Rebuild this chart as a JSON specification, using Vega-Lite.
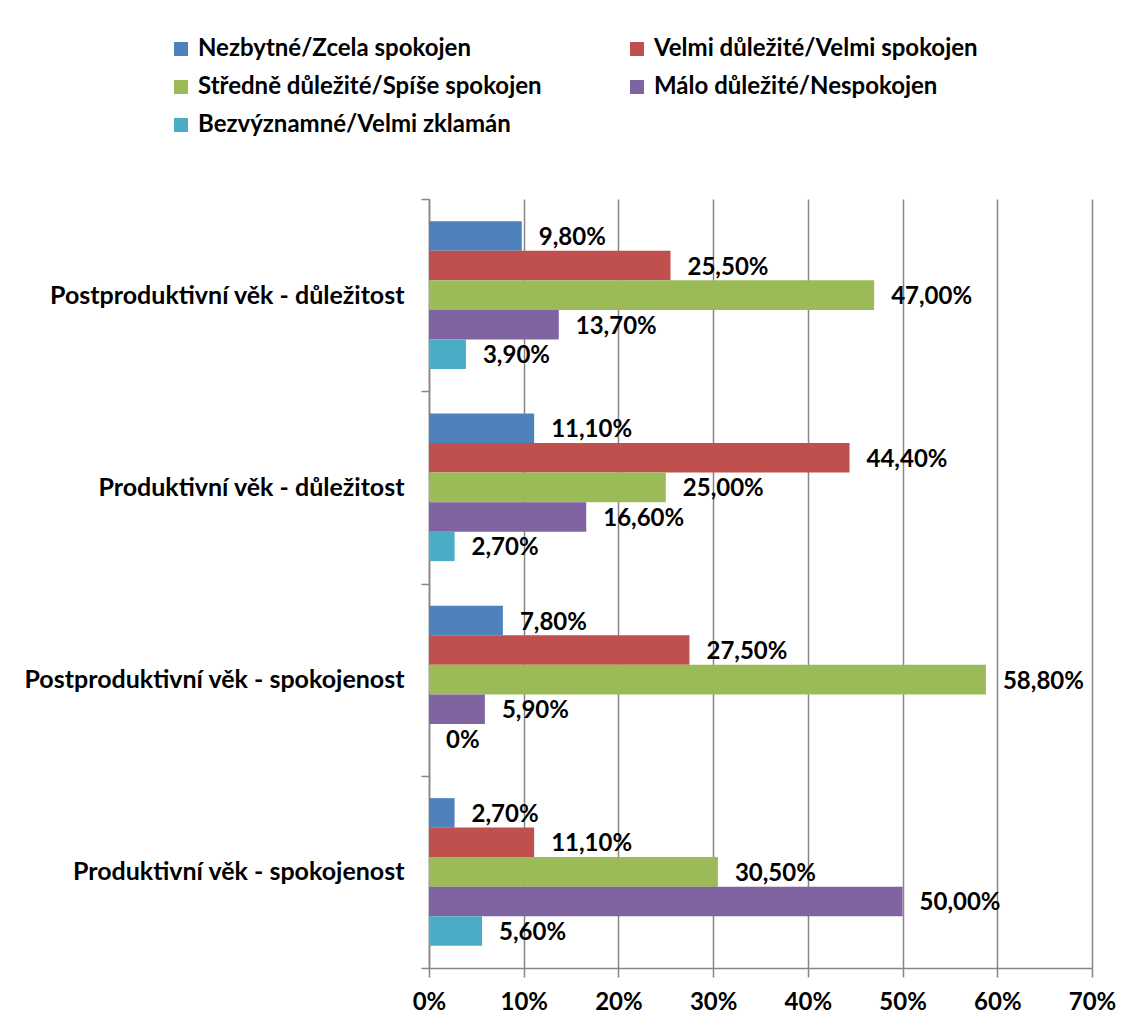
{
  "$schema": "https://vega.github.io/schema/vega-lite/v6.json",
  "width": 663,
  "height": 769,
  "autosize": {"type": "none"},
  "padding": {"left": 429, "top": 199, "right": 41, "bottom": 59},
  "background": "white",
  "data": {
    "values": [
      {"skupina": "Postproduktivní věk - důležitost", "odpoved": "Nezbytné/Zcela spokojen", "podil": 0.098},
      {"skupina": "Postproduktivní věk - důležitost", "odpoved": "Velmi důležité/Velmi spokojen", "podil": 0.255},
      {"skupina": "Postproduktivní věk - důležitost", "odpoved": "Středně důležité/Spíše spokojen", "podil": 0.47},
      {"skupina": "Postproduktivní věk - důležitost", "odpoved": "Málo důležité/Nespokojen", "podil": 0.137},
      {"skupina": "Postproduktivní věk - důležitost", "odpoved": "Bezvýznamné/Velmi zklamán", "podil": 0.039},
      {"skupina": "Produktivní věk - důležitost", "odpoved": "Nezbytné/Zcela spokojen", "podil": 0.111},
      {"skupina": "Produktivní věk - důležitost", "odpoved": "Velmi důležité/Velmi spokojen", "podil": 0.444},
      {"skupina": "Produktivní věk - důležitost", "odpoved": "Středně důležité/Spíše spokojen", "podil": 0.25},
      {"skupina": "Produktivní věk - důležitost", "odpoved": "Málo důležité/Nespokojen", "podil": 0.166},
      {"skupina": "Produktivní věk - důležitost", "odpoved": "Bezvýznamné/Velmi zklamán", "podil": 0.027},
      {"skupina": "Postproduktivní věk - spokojenost", "odpoved": "Nezbytné/Zcela spokojen", "podil": 0.078},
      {"skupina": "Postproduktivní věk - spokojenost", "odpoved": "Velmi důležité/Velmi spokojen", "podil": 0.275},
      {"skupina": "Postproduktivní věk - spokojenost", "odpoved": "Středně důležité/Spíše spokojen", "podil": 0.588},
      {"skupina": "Postproduktivní věk - spokojenost", "odpoved": "Málo důležité/Nespokojen", "podil": 0.059},
      {"skupina": "Postproduktivní věk - spokojenost", "odpoved": "Bezvýznamné/Velmi zklamán", "podil": 0},
      {"skupina": "Produktivní věk - spokojenost", "odpoved": "Nezbytné/Zcela spokojen", "podil": 0.027},
      {"skupina": "Produktivní věk - spokojenost", "odpoved": "Velmi důležité/Velmi spokojen", "podil": 0.111},
      {"skupina": "Produktivní věk - spokojenost", "odpoved": "Středně důležité/Spíše spokojen", "podil": 0.305},
      {"skupina": "Produktivní věk - spokojenost", "odpoved": "Málo důležité/Nespokojen", "podil": 0.5},
      {"skupina": "Produktivní věk - spokojenost", "odpoved": "Bezvýznamné/Velmi zklamán", "podil": 0.056}
    ]
  },
  "encoding": {
    "y": {
      "field": "skupina",
      "type": "nominal",
      "sort": null,
      "title": null,
      "scale": {"paddingInner": 0, "paddingOuter": 0},
      "axis": {
        "tickBand": "extent",
        "tickSize": 8,
        "tickColor": "#868686",
        "tickWidth": 1.5,
        "domainColor": "#868686",
        "domainWidth": 1.5,
        "labelPadding": 17,
        "labelLimit": 420,
        "labelFontSize": 25,
        "labelFontWeight": "bold",
        "labelColor": "#000000",
        "grid": false
      }
    },
    "yOffset": {
      "field": "odpoved",
      "type": "nominal",
      "sort": null,
      "scale": {"paddingInner": 0, "paddingOuter": 0.758}
    },
    "x": {
      "field": "podil",
      "type": "quantitative",
      "title": null,
      "scale": {"domain": [0, 0.7], "nice": false},
      "axis": {
        "values": [0, 0.1, 0.2, 0.3, 0.4, 0.5, 0.6, 0.7],
        "format": ".0%",
        "tickSize": 9,
        "tickColor": "#868686",
        "tickWidth": 1.5,
        "domainColor": "#868686",
        "domainWidth": 1.5,
        "grid": true,
        "gridColor": "#868686",
        "gridWidth": 1.5,
        "labelPadding": 13,
        "labelFontSize": 24,
        "labelFontWeight": "bold",
        "labelColor": "#000000",
        "labelFlush": false
      }
    }
  },
  "layer": [
    {
      "mark": {"type": "bar", "cornerRadius": 0},
      "encoding": {
        "color": {
          "field": "odpoved",
          "type": "nominal",
          "sort": null,
          "title": null,
          "scale": {
            "domain": [
              "Nezbytné/Zcela spokojen",
              "Velmi důležité/Velmi spokojen",
              "Středně důležité/Spíše spokojen",
              "Málo důležité/Nespokojen",
              "Bezvýznamné/Velmi zklamán"
            ],
            "range": ["#4F81BD", "#C0504D", "#9BBB59", "#8064A2", "#4BACC6"]
          },
          "legend": {
            "orient": "none",
            "direction": "horizontal",
            "legendX": -260,
            "legendY": -162,
            "columns": 2,
            "padding": 0,
            "symbolType": "square",
            "symbolSize": 196,
            "symbolStrokeWidth": 0,
            "labelOffset": 5,
            "labelFontSize": 24,
            "labelFontWeight": "bold",
            "labelColor": "#000000",
            "labelLimit": 500,
            "rowPadding": 14,
            "columnPadding": 83
          }
        }
      }
    },
    {
      "mark": {"type": "text", "align": "left", "baseline": "middle", "dx": 17, "dy": 2, "fontSize": 24, "fontWeight": "bold", "color": "#000000"},
      "encoding": {
        "text": {
          "condition": {"test": "datum.podil === 0", "value": "0%"},
          "field": "podil",
          "type": "quantitative",
          "format": ".2%"
        }
      }
    }
  ],
  "config": {
    "font": "Lato",
    "view": {"stroke": null},
    "locale": {
      "number": {"decimal": ",", "thousands": " ", "grouping": [3], "currency": ["", " Kč"]}
    }
  }
}
